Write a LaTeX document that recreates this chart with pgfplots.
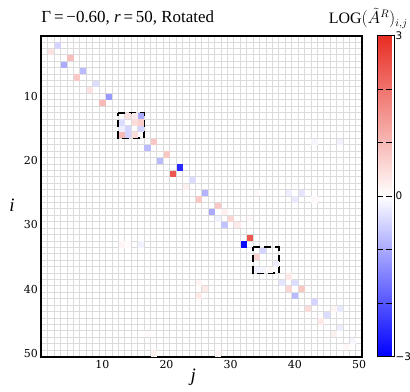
\documentclass[border=0pt]{standalone}
\usepackage{pgfplots}
\pgfplotsset{compat=1.18}
\usepackage{fontspec}
\setmainfont{Liberation Serif}
\newfontfamily\tickfont{DejaVu Serif}
\newfontfamily\cbfont{DejaVu Sans}

\pgfplotsset{
  colormap={bwrmap}{rgb255=(0,0,255) rgb255=(255,255,255) rgb255=(232,45,35)}
}

% non-zero cells of the 50x50 matrix: column j, row i, value
\pgfplotstableread{
j  i  v
3  2  -0.5
2  3  0.4
5  4  0.9
4  5  -1.0
7  6  -0.8
6  7  0.8
9  8  -0.4
8  9  0.4
11 10 -1.2
10 11 1.0
14 13 0.4
15 13 0.25
16 13 -1.0
13 14 -0.4
15 14 0.5
16 14 0.7
13 15 -0.2
14 15 -0.5
16 15 -0.5
13 16 1.0
14 16 -0.5
15 16 0.5
18 17 0.8
17 18 -0.8
20 19 0.8
19 20 -0.8
22 21 -2.5
21 22 2.4
24 23 -0.4
23 24 0.2
26 25 -0.9
25 26 0.8
28 27 0.8
27 28 -1.0
29 28 0.2
28 29 -0.15
30 29 0.6
29 30 -0.7
31 30 0.3
33 32 2.4
32 33 -2.9
35 34 -0.5
34 35 0.6
37 36 -0.2
34 37 -0.15
35 37 -0.1
36 37 0.1
39 38 0.3
38 39 -0.3
40 39 -0.4
39 40 0.6
41 40 0.8
40 41 -0.8
43 42 -0.5
42 43 0.5
45 44 -0.4
44 45 0.3
47 43 -0.25
46 43 0.15
47 46 -0.2
46 47 0.2
49 48 -0.1
48 49 0.1
13 33 0.15
14 33 0.05
16 33 -0.15
25 39 0.15
26 40 0.3
25 41 0.3
39 25 -0.2
40 26 -0.25
41 25 -0.3
34 25 0.1
43 26 0.1
43 17 -0.1
47 17 -0.15
17 47 0.1
18 50 0.2
28 50 0.15
33 29 0.1
}\cells

\begin{document}
\begin{tikzpicture}
\useasboundingbox (-41.3bp,-35.5bp) rectangle (368.7bp,356.5bp);
\begin{axis}[
  at={(0,0)}, anchor=south west,
  scale only axis, width=321bp, height=321bp,
  xmin=0.5, xmax=50.5, ymin=0.5, ymax=50.5, y dir=reverse,
  xtick={10,20,...,50}, ytick={10,20,...,50},
  minor xtick={0.5,1.5,...,50.5}, minor ytick={0.5,1.5,...,50.5},
  xminorgrids=true, yminorgrids=true,
  minor grid style={line width=0.8bp, color=black!14},
  major tick length=0pt, minor tick length=0pt,
  axis line style={line width=2bp},
  tick label style={font=\tickfont\fontsize{11}{12}\selectfont},
  /pgf/number format/assume math mode=true,
  xlabel={\textit{j}}, ylabel={\textit{i}},
  label style={font=\fontsize{19}{22}\selectfont},
  xlabel style={at={(axis description cs:0.473,-0.064)}, anchor=center},
  ylabel style={at={(axis description cs:-0.091,0.472)}, anchor=center, rotate=-90},
  title={Γ\,=\,−0.60, \textit{r}\,=\,50, Rotated},
  title style={at={(0,1)}, anchor=base west, yshift=7.5bp, inner sep=0pt,
    font=\fontsize{17}{20}\selectfont},
  extra description/.code={
    \node[anchor=base east, inner sep=0pt, font=\fontsize{16}{18}\selectfont]
      at (1.142,1.036) {LOG$(\tilde{A}^{R})_{i,j}$};
  },
  colormap name=bwrmap,
  point meta min=-3, point meta max=3,
  colorbar,
  colorbar style={
    at={(parent axis.north east)}, anchor=north west, xshift=6.5bp,
    scale only axis, width=17bp, height=321bp,
    ytick={-3,-2,...,3}, yticklabels={−3,,,0,,,3},
    yticklabel style={font=\cbfont\fontsize{10.5}{12}\selectfont, inner sep=1bp},
    ymajorgrids=true,
    major grid style={black, dash pattern=on 6bp off 3bp, line width=1bp},
    major tick length=0pt,
    axis line style={line width=0.6bp},
  },
]
\addplot[scatter, only marks, mark=square*, mark size=2.6bp,
  scatter/use mapped color={draw=mapped color, fill=mapped color},
  point meta=explicit]
  table[x=j, y=i, meta=v] {\cells};
% dashed boxes around the two 4x4 blocks
\addplot[black, line width=2bp, dash pattern=on 7bp off 4bp]
  coordinates {(12.5,12.5) (16.5,12.5) (16.5,16.5) (12.5,16.5) (12.5,12.5)};
\addplot[black, line width=2bp, dash pattern=on 7bp off 4bp]
  coordinates {(33.5,33.5) (37.5,33.5) (37.5,37.5) (33.5,37.5) (33.5,33.5)};
\end{axis}
\end{tikzpicture}
\end{document}
